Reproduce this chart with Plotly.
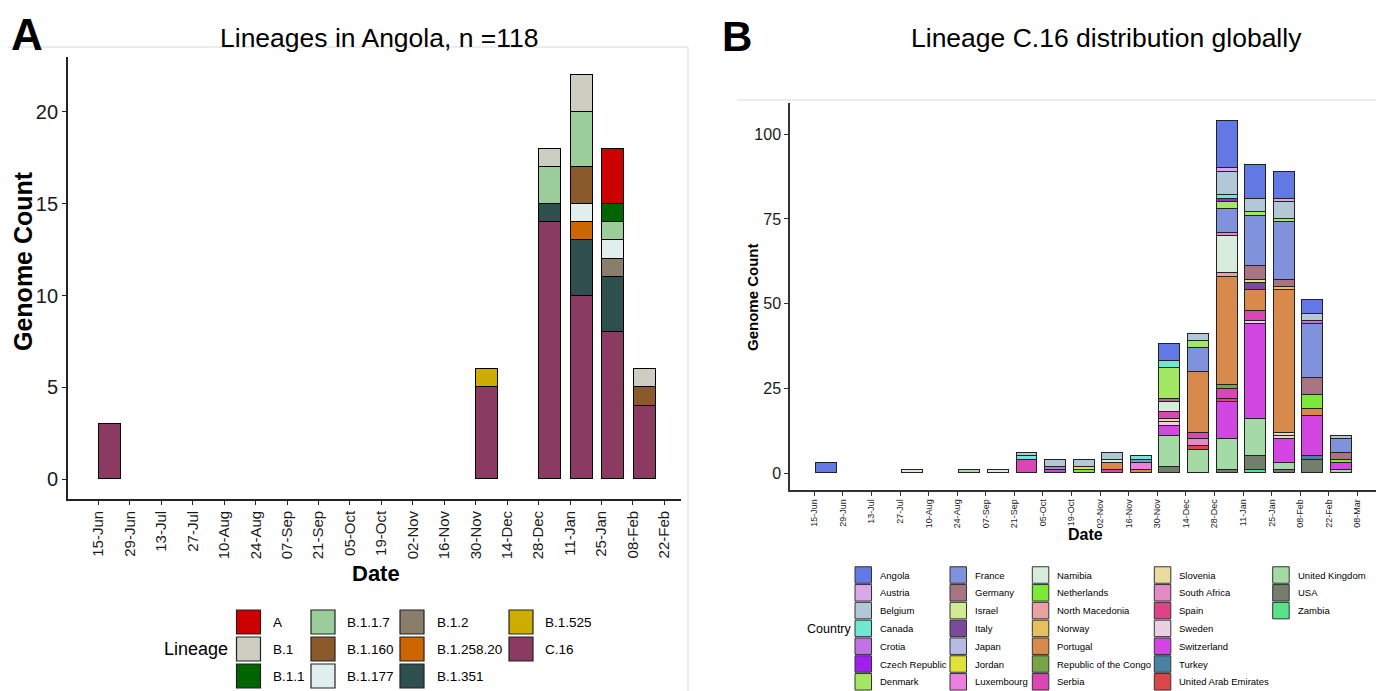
import plotly.graph_objects as go

W, H = 1384, 691
PAD = 8  # page body margin offsets the figure

# ---------------- Panel A data ----------------
dates_a = ["15-Jun", "29-Jun", "13-Jul", "27-Jul", "10-Aug", "24-Aug", "07-Sep", "21-Sep",
           "05-Oct", "19-Oct", "02-Nov", "16-Nov", "30-Nov", "14-Dec", "28-Dec", "11-Jan",
           "25-Jan", "08-Feb", "22-Feb"]
lineages = ["A", "B.1", "B.1.1", "B.1.1.7", "B.1.160", "B.1.177", "B.1.2", "B.1.258.20",
            "B.1.351", "B.1.525", "C.16"]
lineage_colors = ["#CD0000", "#CDCDC1", "#006400", "#9BCD9B", "#8B5A2B", "#E0EEEE",
                  "#8B7D6B", "#CD6600", "#2F4F4F", "#CDAD00", "#8B3A62"]
#            15J 29J 13J 27J 10A 24A 07S 21S 05O 19O 02N 16N 30N 14D 28D 11J 25J 08F 22F
lin_A      = [0, 0, 0, 0, 0, 0, 0, 0, 0, 0, 0, 0, 0, 0, 0, 0, 3, 0, 0]
lin_B1     = [0, 0, 0, 0, 0, 0, 0, 0, 0, 0, 0, 0, 0, 0, 1, 2, 0, 1, 0]
lin_B11    = [0, 0, 0, 0, 0, 0, 0, 0, 0, 0, 0, 0, 0, 0, 0, 0, 1, 0, 0]
lin_B117   = [0, 0, 0, 0, 0, 0, 0, 0, 0, 0, 0, 0, 0, 0, 2, 3, 1, 0, 0]
lin_B1160  = [0, 0, 0, 0, 0, 0, 0, 0, 0, 0, 0, 0, 0, 0, 0, 2, 0, 1, 0]
lin_B1177  = [0, 0, 0, 0, 0, 0, 0, 0, 0, 0, 0, 0, 0, 0, 0, 1, 1, 0, 0]
lin_B12    = [0, 0, 0, 0, 0, 0, 0, 0, 0, 0, 0, 0, 0, 0, 0, 0, 1, 0, 0]
lin_B125820 = [0, 0, 0, 0, 0, 0, 0, 0, 0, 0, 0, 0, 0, 0, 0, 1, 0, 0, 0]
lin_B1351  = [0, 0, 0, 0, 0, 0, 0, 0, 0, 0, 0, 0, 0, 0, 1, 3, 3, 0, 0]
lin_B1525  = [0, 0, 0, 0, 0, 0, 0, 0, 0, 0, 0, 0, 1, 0, 0, 0, 0, 0, 0]
lin_C16    = [3, 0, 0, 0, 0, 0, 0, 0, 0, 0, 0, 0, 5, 0, 14, 10, 8, 4, 0]
lineage_values = [lin_A, lin_B1, lin_B11, lin_B117, lin_B1160, lin_B1177, lin_B12,
                  lin_B125820, lin_B1351, lin_B1525, lin_C16]
yticks_a = [0, 5, 10, 15, 20]

# ---------------- Panel B data ----------------
dates_b = dates_a + ["08-Mar"]
countries = ["Angola", "Austria", "Belgium", "Canada", "Crotia", "Czech Republic", "Denmark",
             "France", "Germany", "Israel", "Italy", "Japan", "Jordan", "Luxembourg",
             "Namibia", "Netherlands", "North Macedonia", "Norway", "Portugal",
             "Republic of the Congo", "Serbia", "Slovenia", "South Africa", "Spain",
             "Sweden", "Switzerland", "Turkey", "United Arab Emirates", "United Kingdom",
             "USA", "Zambia"]
country_colors = ["#6278E4", "#DAA8E8", "#B2C8D6", "#6EE8D2", "#C074E4", "#A020F0", "#A2E862",
                  "#8092DC", "#A87484", "#D2EA92", "#7A4A9C", "#B8BAE6", "#E0E23A", "#EC80E0",
                  "#D8ECDC", "#7AEA36", "#E8A2A2", "#E6C05A", "#D88A4C", "#78A448",
                  "#DC46B4", "#EADCA0", "#E48AC4", "#E0428A", "#EAD0E2", "#D246E2",
                  "#4A82A2", "#D84848", "#A4DAA6", "#747E6C", "#58E28A"]
#          15J 29J 13J 27J 10A 24A 07S 21S 05O 19O 02N 16N 30N 14D 28D 11J 25J 08F 22F 08M
angola      = [3, 0, 0, 0, 0, 0, 0, 0, 0, 0, 0, 0, 5, 0, 14, 10, 8, 4, 0, 0]
austria     = [0, 0, 0, 0, 0, 0, 0, 0, 0, 0, 0, 0, 0, 0, 1, 0, 1, 0, 0, 0]
belgium     = [0, 0, 0, 0, 0, 0, 0, 1, 2, 2, 2, 0, 0, 2, 7, 4, 5, 2, 1, 0]
canada      = [0, 0, 0, 0, 0, 0, 0, 1, 0, 0, 0, 1, 2, 0, 1, 0, 0, 0, 0, 0]
crotia      = [0, 0, 0, 0, 0, 0, 0, 0, 0, 0, 0, 0, 0, 0, 0, 0, 0, 1, 0, 0]
czech       = [0, 0, 0, 0, 0, 0, 0, 0, 0, 0, 0, 0, 0, 0, 1, 0, 0, 0, 0, 0]
denmark     = [0, 0, 0, 0, 0, 0, 0, 0, 0, 0, 0, 0, 9, 2, 2, 1, 1, 0, 0, 0]
france      = [0, 0, 0, 0, 0, 0, 0, 0, 1, 0, 0, 1, 0, 7, 7, 15, 17, 16, 4, 0]
germany     = [0, 0, 0, 0, 0, 0, 0, 0, 0, 0, 0, 0, 1, 0, 0, 4, 2, 5, 2, 0]
israel      = [0, 0, 0, 0, 0, 0, 0, 0, 0, 0, 0, 0, 0, 0, 0, 1, 0, 0, 0, 0]
italy       = [0, 0, 0, 0, 0, 0, 0, 0, 0, 0, 0, 0, 0, 0, 0, 2, 0, 0, 0, 0]
japan       = [0, 0, 0, 0, 0, 0, 0, 0, 0, 0, 0, 0, 0, 0, 0, 0, 0, 0, 0, 0]
jordan      = [0, 0, 0, 0, 0, 0, 0, 0, 0, 1, 0, 0, 0, 0, 0, 0, 0, 0, 0, 0]
luxembourg  = [0, 0, 0, 0, 0, 0, 0, 0, 0, 0, 0, 2, 0, 0, 1, 0, 0, 0, 0, 0]
namibia     = [0, 0, 0, 1, 0, 0, 1, 0, 0, 0, 1, 0, 3, 0, 11, 0, 0, 0, 0, 0]
netherlands = [0, 0, 0, 0, 0, 0, 0, 0, 0, 1, 0, 0, 0, 0, 0, 0, 0, 4, 1, 0]
n_macedonia = [0, 0, 0, 0, 0, 0, 0, 0, 0, 0, 0, 0, 0, 0, 1, 0, 0, 0, 0, 0]
norway      = [0, 0, 0, 0, 0, 0, 0, 0, 0, 0, 0, 0, 0, 0, 0, 0, 1, 0, 0, 0]
portugal    = [0, 0, 0, 0, 0, 0, 0, 0, 0, 0, 2, 1, 0, 18, 32, 6, 42, 2, 0, 0]
congo       = [0, 0, 0, 0, 0, 0, 0, 0, 0, 0, 0, 0, 0, 0, 1, 0, 0, 0, 0, 0]
serbia      = [0, 0, 0, 0, 0, 0, 0, 4, 1, 0, 1, 0, 2, 2, 3, 3, 0, 0, 0, 0]
slovenia    = [0, 0, 0, 0, 0, 0, 0, 0, 0, 0, 0, 0, 1, 0, 0, 0, 1, 0, 0, 0]
south_africa = [0, 0, 0, 0, 0, 0, 0, 0, 0, 0, 0, 0, 0, 2, 0, 0, 0, 0, 0, 0]
spain       = [0, 0, 0, 0, 0, 0, 0, 0, 0, 0, 0, 0, 0, 0, 1, 0, 0, 0, 0, 0]
sweden      = [0, 0, 0, 0, 0, 0, 0, 0, 0, 0, 0, 0, 1, 0, 0, 1, 1, 0, 0, 0]
switzerland = [0, 0, 0, 0, 0, 0, 0, 0, 0, 0, 0, 0, 3, 0, 11, 28, 7, 12, 2, 0]
turkey      = [0, 0, 0, 0, 0, 0, 0, 0, 0, 0, 0, 0, 0, 0, 0, 0, 0, 1, 0, 0]
uae         = [0, 0, 0, 0, 0, 0, 0, 0, 0, 0, 0, 0, 0, 1, 0, 0, 0, 0, 0, 0]
uk          = [0, 0, 0, 0, 0, 1, 0, 0, 0, 0, 0, 0, 9, 7, 9, 11, 2, 0, 1, 0]
usa         = [0, 0, 0, 0, 0, 0, 0, 0, 0, 0, 0, 0, 2, 0, 1, 4, 1, 4, 0, 0]
zambia      = [0, 0, 0, 0, 0, 0, 0, 0, 0, 0, 0, 0, 0, 0, 0, 1, 0, 0, 0, 0]
country_values = [angola, austria, belgium, canada, crotia, czech, denmark, france, germany,
                  israel, italy, japan, jordan, luxembourg, namibia, netherlands, n_macedonia,
                  norway, portugal, congo, serbia, slovenia, south_africa, spain, sweden,
                  switzerland, turkey, uae, uk, usa, zambia]
yticks_b = [0, 25, 50, 75, 100]

FONT = "Liberation Sans, Arial, Helvetica, sans-serif"
FW, FH = W - PAD, H - PAD


def px(x):
    return (x - PAD) / FW


def py(y):
    return 1 - (y - PAD) / FH


fig = go.Figure()

# bars: first trace = bottom of stack (ggplot puts last factor level at bottom)
OFF_A, WID_A = 0.37, 0.70
for name, col, vals in reversed(list(zip(lineages, lineage_colors, lineage_values))):
    xs = [i + OFF_A for i, v in enumerate(vals) if v > 0]
    ys = [v for v in vals if v > 0]
    fig.add_trace(go.Bar(x=xs, y=ys, width=WID_A, name=name, xaxis="x", yaxis="y",
                         marker=dict(color=col, line=dict(color="black", width=1.3)),
                         showlegend=False))

OFF_B, WID_B = 0.44, 0.73
for name, col, vals in reversed(list(zip(countries, country_colors, country_values))):
    xs = [i + OFF_B for i, v in enumerate(vals) if v > 0]
    ys = [v for v in vals if v > 0]
    fig.add_trace(go.Bar(x=xs, y=ys, width=WID_B, name=name, xaxis="x2", yaxis="y2",
                         marker=dict(color=col, line=dict(color="#222222", width=1.1)),
                         showlegend=False))

axis_common = dict(showgrid=False, zeroline=False, showline=True, ticks="outside",
                   ticklen=4, fixedrange=True)

fig.update_layout(
    width=FW, height=FH, margin=dict(l=0, r=0, t=0, b=0),
    paper_bgcolor="white", plot_bgcolor="white", barmode="stack", bargap=0,
    showlegend=False, font=dict(family=FONT, color="black"),
    xaxis=dict(domain=[px(68), px(681)], range=[-0.97, 18.53], anchor="y",
               tickvals=list(range(len(dates_a))), ticktext=dates_a, tickangle=-90,
               tickfont=dict(size=15, color="#1a1a1a"), linecolor="#222", linewidth=1.8,
               tickcolor="#222", **axis_common),
    yaxis=dict(domain=[py(499), py(57)], range=[-1.07, 22.98], anchor="x",
               tickvals=yticks_a, tickfont=dict(size=20, color="#1a1a1a"),
               linecolor="#222", linewidth=1.8, tickcolor="#222", **axis_common),
    xaxis2=dict(domain=[px(790), px(1378)], range=[-0.85, 19.72], anchor="y2",
                tickvals=list(range(len(dates_b))), ticktext=dates_b, tickangle=-90,
                tickfont=dict(size=9, color="#1a1a1a"), linecolor="#333", linewidth=1.5,
                tickcolor="#333", **axis_common),
    yaxis2=dict(domain=[py(490), py(103)], range=[-4.93, 109.2], anchor="x2",
                tickvals=yticks_b, tickfont=dict(size=16, color="#1a1a1a"),
                linecolor="#333", linewidth=1.5, tickcolor="#333", **axis_common),
)

ann = []
shapes = []


def text(x, y, s, size, bold=False, xanchor="center", yanchor="middle", angle=0, color="black"):
    ann.append(dict(x=px(x), y=py(y), xref="paper", yref="paper",
                    text=("<b>%s</b>" % s) if bold else s,
                    showarrow=False, xanchor=xanchor, yanchor=yanchor, textangle=angle,
                    font=dict(size=size, family=FONT, color=color)))


# panel labels and titles
text(27, 8, "A", 44, bold=True, yanchor="top")
text(379, 38, "Lineages in Angola, n =118", 26.5)
text(737, 11, "B", 42, bold=True, yanchor="top")
text(1106, 38, "Lineage C.16 distribution globally", 26.5)

# axis titles
text(23, 261, "Genome Count", 25, bold=True, angle=-90)
text(376, 573, "Date", 22, bold=True)
text(753, 297, "Genome Count", 15, bold=True, angle=-90)
text(1085, 534, "Date", 16, bold=True)

# panel frames (light gray)
shapes.append(dict(type="rect", xref="paper", yref="paper", x0=px(5), x1=px(688),
                   y0=py(700), y1=py(47), line=dict(color="#d9d9d9", width=1), layer="below"))
shapes.append(dict(type="line", xref="paper", yref="paper", x0=px(737), x1=px(1384),
                   y0=py(100), y1=py(100), line=dict(color="#d9d9d9", width=1), layer="below"))

# legend A (3 rows, column-major)
text(162, 649, "Lineage", 18, xanchor="left")
key_x_a = [236.5, 311, 400, 509]
txt_x_a = [270.5, 345, 434.5, 543]
row_y_a = [622, 649, 676]
ks = 24
for k, (name, col) in enumerate(zip(lineages, lineage_colors)):
    c, r = divmod(k, 3)
    x0, yc = key_x_a[c], row_y_a[r]
    shapes.append(dict(type="rect", xref="paper", yref="paper", x0=px(x0), x1=px(x0 + ks),
                       y0=py(yc + ks / 2), y1=py(yc - ks / 2), fillcolor=col,
                       line=dict(color="#222", width=1.2)))
    text(txt_x_a[c], yc, name, 13.5, xanchor="left")

# legend B (7 rows, column-major)
text(805, 629, "Country", 12.5, xanchor="left")
key_x_b = [855, 950, 1032.3, 1154.3, 1272.7]
txt_x_b = [877.5, 972.5, 1055, 1177, 1295.5]
row_y_b = [575, 592.8, 610.6, 628.4, 646.2, 664, 681.8]
kb = 16.5
for k, (name, col) in enumerate(zip(countries, country_colors)):
    c, r = divmod(k, 7)
    x0, yc = key_x_b[c], row_y_b[r]
    shapes.append(dict(type="rect", xref="paper", yref="paper", x0=px(x0), x1=px(x0 + kb),
                       y0=py(yc + kb / 2), y1=py(yc - kb / 2), fillcolor=col,
                       line=dict(color="#333", width=1)))
    text(txt_x_b[c], yc, name, 9.5, xanchor="left")

fig.update_layout(annotations=ann, shapes=shapes)
fig.write_html("out.html")
